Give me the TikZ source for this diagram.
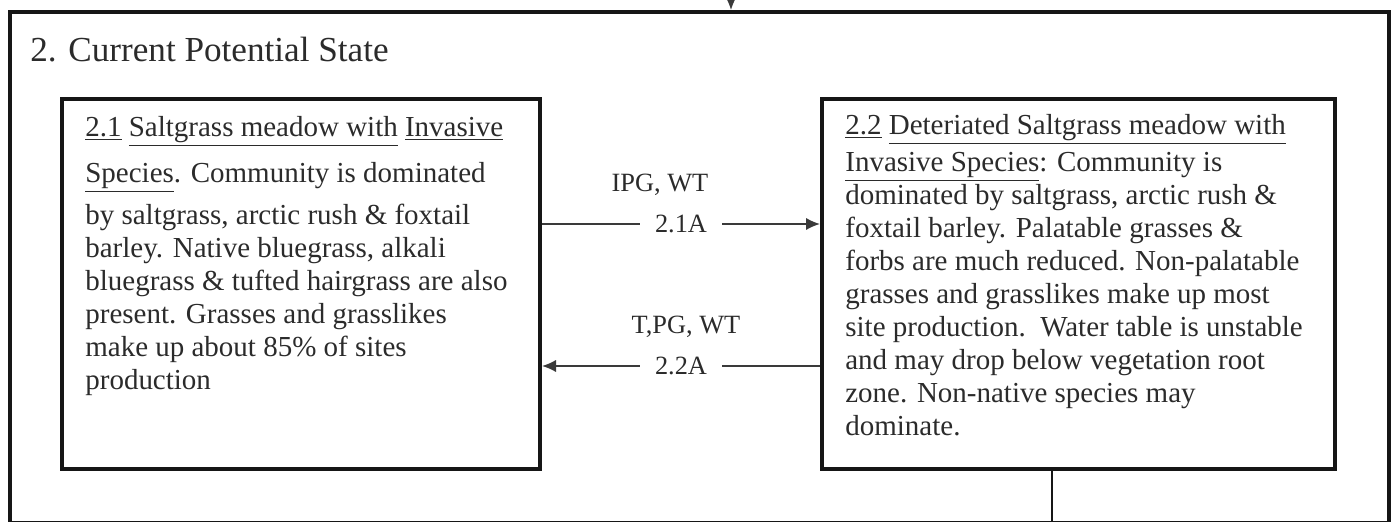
\documentclass[tikz,border=0pt]{standalone}
\usepackage{fontspec}
\setmainfont{Liberation Serif}
\usepackage{xcolor}
\usepackage{tikz}
\usetikzlibrary{arrows.meta,positioning}
\definecolor{StateInk}{HTML}{2B2B2B}
\definecolor{StateEdge}{HTML}{161616}
\definecolor{StateArrow}{HTML}{3A3A3A}

\begin{document}
\begin{tikzpicture}[
  frame/.style={draw=StateEdge,line width=2.2pt,minimum width=27.58cm,minimum height=10.22cm,inner sep=0pt},
  phase/.style={draw=StateEdge,line width=2.2pt,minimum height=7.4cm,inner sep=0pt},
  body/.style={text=StateInk,align=left,inner sep=0pt,anchor=north west,font=\fontsize{16.5}{18.8}\selectfont},
  tag/.style={text=StateInk,inner sep=0pt,font=\fontsize{15}{18}\selectfont},
  flow/.style={draw=StateArrow,line width=1pt,-{Latex[length=8pt,width=7pt]}},
  link/.style={draw=StateEdge,line width=1.2pt},
]
\useasboundingbox (0,0) rectangle (27.92,10.42);
\node[frame] (state) at (13.99,5.07) {};
\node[anchor=west,text=StateInk,inner sep=0pt,font=\fontsize{20}{24}\selectfont] (title) at (0.6,9.42) {2. Current Potential State};
\node[phase,minimum width=9.56cm] (s21) at (6.02,4.74) {};
\node[phase,minimum width=10.26cm] (s22) at (21.57,4.74) {};
\node[body] (t21) at (1.70,8.10) {\underline{2.1} \underline{Saltgrass meadow with} \underline{Invasive}\\[0.26cm]
\underline{Species}. Community is dominated\\[0.18cm]
by saltgrass, arctic rush \& foxtail\\
barley. Native bluegrass, alkali\\
bluegrass \& tufted hairgrass are also\\
present. Grasses and grasslikes\\
make up about 85\% of sites\\
production};
\node[body] (t22) at (16.90,8.14) {\underline{2.2} \underline{Deteriated Saltgrass meadow with}\\[0.08cm]
\underline{Invasive Species}: Community is\\
dominated by saltgrass, arctic rush \&\\
foxtail barley. Palatable grasses \&\\
forbs are much reduced. Non-palatable\\
grasses and grasslikes make up most\\
site production.\ \ Water table is unstable\\
and may drop below vegetation root\\
zone. Non-native species may\\
dominate.};
% transitions between the two phases
\draw[flow] ([yshift=1.2cm]s21.east) -- node[tag,fill=white,inner xsep=0.3cm,inner ysep=2pt] (a21) {2.1A} ([yshift=1.2cm]s22.west);
\node[tag,above=0.3cm of a21,xshift=-0.42cm] (c21) {IPG, WT};
\draw[flow] ([yshift=-1.64cm]s22.west) -- node[tag,fill=white,inner xsep=0.3cm,inner ysep=2pt] (a22) {2.2A} ([yshift=-1.64cm]s21.east);
\node[tag,above=0.3cm of a22,xshift=0.1cm] (c22) {T,PG, WT};
% links to the states above and below
\coordinate (in) at (14.62,10.42);
\draw[flow] (in) -- (in |- state.north);
\coordinate (out) at (21.04,0);
\draw[link] (s22.south -| out) -- (out);
\end{tikzpicture}
\end{document}
